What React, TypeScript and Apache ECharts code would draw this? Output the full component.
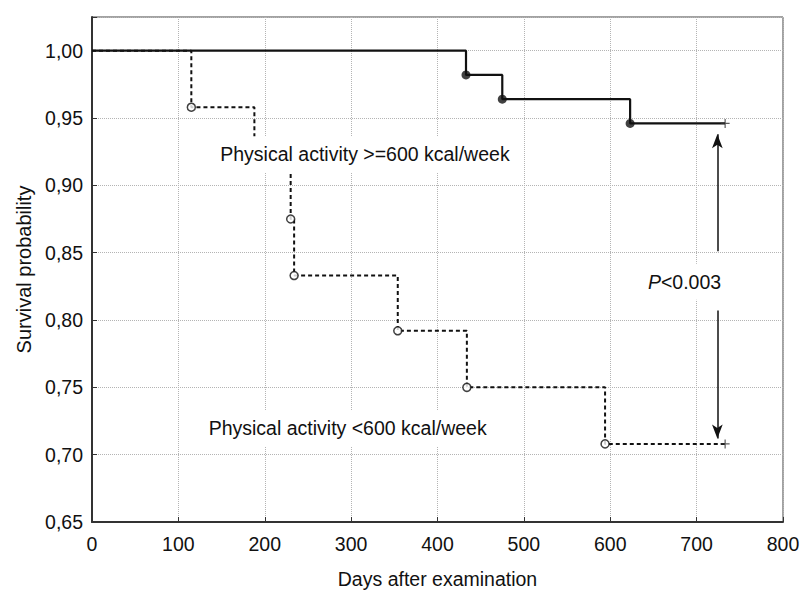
import React, { useEffect, useRef } from "react";
import * as echarts from "echarts";

// Kaplan-Meier curve, activity >= 600 kcal/week (solid)
const highDays = [0, 433, 475, 623, 733];
const highSurv = [1.0, 0.982, 0.964, 0.946, 0.946];
const highEventDays = [433, 475, 623];
const highEventSurv = [0.982, 0.964, 0.946];

// Kaplan-Meier curve, activity < 600 kcal/week (dashed)
const lowDays = [0, 115, 188, 230, 234, 354, 434, 594, 733];
const lowSurv = [1.0, 0.958, 0.917, 0.875, 0.833, 0.792, 0.75, 0.708, 0.708];
const lowEventDays = [115, 188, 230, 234, 354, 434, 594];
const lowEventSurv = [0.958, 0.917, 0.875, 0.833, 0.792, 0.75, 0.708];

// censored end points
const censorDays = [733, 733];
const censorSurv = [0.946, 0.708];

// axis ticks
const xTicks = [0, 100, 200, 300, 400, 500, 600, 700, 800];
const yTicks = [0.65, 0.7, 0.75, 0.8, 0.85, 0.9, 0.95, 1.0];

// annotations
const annoTexts = ["Physical activity >=600 kcal/week", "Physical activity <600 kcal/week", "{i|P}<0.003"];
const annoDays = [316, 296, 686];
const annoSurv = [0.923, 0.7197, 0.8284];
const arrowDay = 724;
const arrowUp = [0.851, 0.938];
const arrowDown = [0.807, 0.712];

const FONT = "'Liberation Sans',Arial,Helvetica,sans-serif";
const INK = "#111";

export default function App() {
  const ref = useRef<HTMLDivElement>(null);
  useEffect(() => {
    document.body.style.margin = "0";
    const chart = echarts.init(ref.current!, null, { renderer: "svg" });
    const zip = (a: number[], b: number[]) => a.map((v, i) => [v, b[i]]);
    chart.setOption({
      animation: false,
      backgroundColor: "#fff",
      grid: {
        left: 92,
        right: 21,
        top: 17,
        bottom: 70,
        show: true,
        borderColor: "#444",
        borderWidth: 1,
      },
      xAxis: {
        type: "value",
        min: xTicks[0],
        max: xTicks[xTicks.length - 1],
        interval: 100,
        name: "Days after examination",
        nameLocation: "middle",
        nameGap: 47,
        nameTextStyle: { fontFamily: FONT, fontSize: 19.5, color: INK },
        axisLine: { show: true, lineStyle: { color: "#333", width: 2 } },
        axisTick: { show: true, inside: true, length: 5, lineStyle: { color: "#333" } },
        axisLabel: { fontFamily: FONT, fontSize: 19.5, color: INK, margin: 12 },
        splitLine: { show: true, lineStyle: { color: "#b4b4b4", type: "dotted", width: 1 } },
      },
      yAxis: {
        type: "value",
        min: yTicks[0],
        max: 1.025,
        interval: 0.05,
        name: "Survival probability",
        nameLocation: "middle",
        nameGap: 55,
        nameTextStyle: { fontFamily: FONT, fontSize: 20, color: INK },
        axisLine: { show: true, lineStyle: { color: "#333", width: 2 } },
        axisTick: { show: true, inside: true, length: 5, lineStyle: { color: "#333" } },
        axisLabel: {
          fontFamily: FONT,
          fontSize: 19.5,
          color: INK,
          margin: 9,
          formatter: (v: number) => {
            const hit = yTicks.some((t) => Math.abs(t - v) < 1e-6);
            return hit ? v.toFixed(2).replace(".", ",") : "";
          },
        },
        splitLine: { show: true, lineStyle: { color: "#b4b4b4", type: "dotted", width: 1 } },
      },
      series: [
        {
          type: "line",
          step: "end",
          data: zip(lowDays, lowSurv),
          symbol: "none",
          lineStyle: { color: INK, width: 2, type: [4, 3] },
          z: 2,
        },
        {
          type: "line",
          step: "end",
          data: zip(highDays, highSurv),
          symbol: "none",
          lineStyle: { color: INK, width: 2.2, type: "solid" },
          z: 3,
          markLine: {
            silent: true,
            symbol: ["none", "arrow"],
            symbolSize: [8, 14],
            label: { show: false },
            lineStyle: { color: INK, width: 1.5, type: "solid" },
            data: [
              [{ coord: [arrowDay, arrowUp[0]] }, { coord: [arrowDay, arrowUp[1]] }],
              [{ coord: [arrowDay, arrowDown[0]] }, { coord: [arrowDay, arrowDown[1]] }],
            ],
          },
        },
        {
          type: "scatter",
          data: zip(lowEventDays, lowEventSurv),
          symbol: "circle",
          symbolSize: 8,
          itemStyle: { color: "#fff", borderColor: INK, borderWidth: 1.5 },
          z: 4,
        },
        {
          type: "scatter",
          data: zip(highEventDays, highEventSurv),
          symbol: "circle",
          symbolSize: 9,
          itemStyle: { color: INK, borderColor: INK, borderWidth: 0 },
          z: 4,
        },
        {
          type: "scatter",
          data: zip(censorDays, censorSurv),
          symbol: "path://M0,5L10,5M5,0L5,10",
          symbolSize: 9,
          itemStyle: { color: "transparent", borderColor: "#333", borderWidth: 1.2 },
          z: 4,
        },
        {
          type: "scatter",
          z: 100,
          zlevel: 1,
          symbolSize: 1,
          silent: true,
          itemStyle: { color: "transparent" },
          data: annoTexts.map((t, i) => ({ value: [annoDays[i], annoSurv[i]], name: t })),
          label: {
            show: true,
            position: "inside",
            formatter: (p: any) => p.name,
            fontFamily: FONT,
            fontSize: 19.5,
            color: INK,
            backgroundColor: "#ffffff",
            opacity: 1,
            padding: [8, 6],
            rich: {
              i: { fontFamily: FONT, fontSize: 19.5, fontStyle: "italic", color: INK },
            },
          },
        },
      ],
    });
    return () => chart.dispose();
  }, []);
  return <div ref={ref} style={{ width: 804, height: 594 }} />;
}
